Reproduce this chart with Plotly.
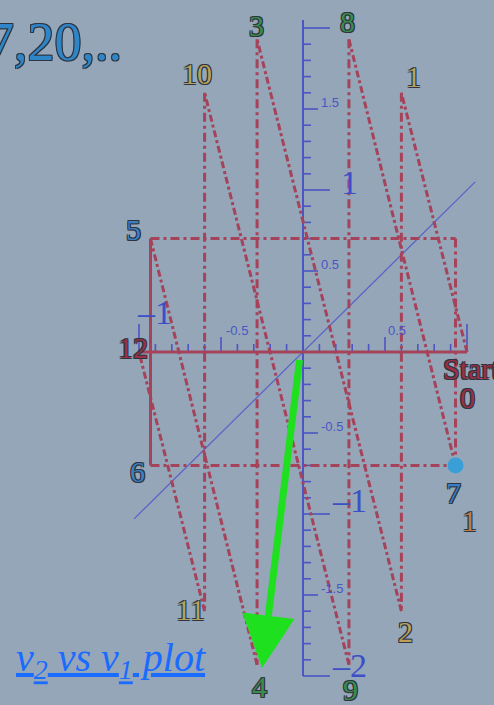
import numpy as np
import plotly.graph_objects as go

# ---- data -----------------------------------------------------------------
# sampled states (v1, v2) of the iteration, in visiting order 0..12
v1_pts = [1.00, 0.60, 0.60, -0.28, -0.28, -0.93, -0.93, 0.93, 0.28, 0.28, -0.60, -0.60, -1.00]
v2_pts = [0.00, 1.60, -1.60, 1.93, -1.93, 0.70, -0.70, -0.70, 1.93, -1.93, 1.60, -1.60, 0.00]
state_names = ["0", "1", "2", "3", "4", "5", "6", "7", "8", "9", "10", "11", "12"]

# continuous ramps and vertical resets between consecutive states
ramp_pairs = [(0, 1), (2, 3), (4, 5), (7, 8), (9, 10), (11, 12)]
reset_pairs = [(1, 2), (3, 4), (8, 9), (10, 11)]

# axis tick labels
y_small_ticks = [1.5, 0.5, -0.5, -1.5]
x_small_ticks = [-0.5, 0.5]
y_big_ticks = [1, -1, -2]
x_big_ticks = [-1]

# reference diagonal v2 = v1
diag_v1 = [-1.03, 1.05]

# green pointer from the origin down to state 4
arrow_from = (-0.02, -0.04)
arrow_to = (-0.25, -1.95)

# ---- geometry / styling ---------------------------------------------------
W, H = 494, 705
PX_X, PX_Y = 164.0, 162.0          # pixels per unit on each axis
X0_PX, Y0_PX = 303.0, 352.0        # where the origin sits on the page
x_range = [-X0_PX / PX_X, (W - X0_PX) / PX_X]
y_range = [(Y0_PX - H) / PX_Y, Y0_PX / PX_Y]

BG = "#95a6b9"
RED = "#a5435a"
BLUE = "#4b55c4"
SERIF = "Liberation Serif, DejaVu Serif, serif"
OUTLINE = ("-1px -1px 0 #2d3440, 1px -1px 0 #2d3440, "
           "-1px 1px 0 #2d3440, 1px 1px 0 #2d3440")
DASHDOT = "9px,4px,3px,4px"

fig = go.Figure()


def seg(xs, ys, color, width, dash="solid"):
    fig.add_trace(go.Scatter(x=xs, y=ys, mode="lines", hoverinfo="skip",
                             line=dict(color=color, width=width, dash=dash)))


# blue diagonal
seg(diag_v1, diag_v1, "#5a63c6", 1.3)

# vertical v2 axis with ticks on its right side
seg([0, 0], [-2.0, 2.05], BLUE, 2)
ty = np.round(np.arange(-20, 21) * 0.1, 1)
tx_list, ty_list = [], []
for t in ty:
    if abs(t) < 1e-9:
        continue
    if abs(t - round(t)) < 1e-9:
        L = 27
    elif abs(t * 2 - round(t * 2)) < 1e-9:
        L = 15
    else:
        L = 8
    tx_list += [0, L / PX_X, None]
    ty_list += [t, t, None]
seg(tx_list, ty_list, BLUE, 1.6)

# horizontal v1 ticks (pointing up)
tx = np.round(np.arange(-10, 11) * 0.1, 1)
hx, hy = [], []
for t in tx:
    if abs(t) < 1e-9:
        continue
    if abs(t - round(t)) < 1e-9:
        L = 28
    elif abs(t * 2 - round(t * 2)) < 1e-9:
        L = 15
    else:
        L = 8
    hx += [t, t, None]
    hy += [0, L / PX_Y, None]
seg(hx, hy, BLUE, 1.6)

# red v1 axis line
seg([v1_pts[12], v1_pts[0]], [v2_pts[12], v2_pts[0]], RED, 3)

# rectangle traced around states 5, 6, 7
corner_v1 = v1_pts[7]
corner_v2 = v2_pts[5]
seg([v1_pts[5], v1_pts[6]], [v2_pts[5], v2_pts[6]], RED, 3)
seg([v1_pts[6], v1_pts[7]], [v2_pts[6], v2_pts[7]], RED, 3, DASHDOT)
seg([v1_pts[5], corner_v1], [v2_pts[5], corner_v2], RED, 3, DASHDOT)
seg([corner_v1, v1_pts[7]], [corner_v2, v2_pts[7]], RED, 3, DASHDOT)

# ramps
for a, b in ramp_pairs:
    seg([v1_pts[a], v1_pts[b]], [v2_pts[a], v2_pts[b]], RED, 3, "7px,3px,3px,3px")

# resets
for a, b in reset_pairs:
    seg([v1_pts[a], v1_pts[b]], [v2_pts[a], v2_pts[b]], RED, 3, DASHDOT)

# current state marker
fig.add_trace(go.Scatter(x=[v1_pts[7]], y=[v2_pts[7]], mode="markers", hoverinfo="skip",
                         marker=dict(size=16, color="#3a9fd6")))

ann = []

# small tick labels
for t in y_small_ticks:
    ann.append(dict(x=0, y=t, text=f"{t:g}", showarrow=False, xanchor="left",
                    yanchor="middle", xshift=16, yshift=7,
                    font=dict(family="Liberation Sans, Arial", size=13, color=BLUE)))
for t in x_small_ticks:
    ann.append(dict(x=t, y=0, text=f"{t:g}", showarrow=False, xanchor="left",
                    yanchor="middle", xshift=1 if t > 0 else 3, yshift=22,
                    font=dict(family="Liberation Sans, Arial", size=13, color=BLUE)))

# large axis labels
for t in y_big_ticks:
    txt = f"{t}" if t > 0 else f"\u2013{abs(t)}"
    ann.append(dict(x=0, y=t, text=txt, showarrow=False, xanchor="center",
                    yanchor="middle", xshift=46, yshift=8 if t > 0 else 14 if t == -1 else 11,
                    font=dict(family=SERIF, size=34, color="#3d4fc6")))
for t in x_big_ticks:
    ann.append(dict(x=t, y=0, text=f"\u2013{abs(t)}", showarrow=False, xanchor="center",
                    yanchor="middle", xshift=15, yshift=40,
                    font=dict(family=SERIF, size=34, color="#3d4fc6")))

# state labels: colour and offset (pixels) from each state
label_style = {
    0: ("#9a3043", 0, -45),
    1: ("#baa05a", 12, 16),
    2: ("#baa05a", 4, -20),
    3: ("#3a8c4c", -1, 14),
    4: ("#3a8c4c", 2, -22),
    5: ("#3a80c2", -17, 9),
    6: ("#3a80c2", -13, -6),
    7: ("#3a80c2", -2, -27),
    8: ("#3a8c4c", -1, 18),
    9: ("#3a8c4c", 2, -25),
    10: ("#baa05a", -8, 19),
    11: ("#baa05a", -14, 2),
    12: ("#9a3043", -6, 5),
}
for i, name in enumerate(state_names):
    col, dx, dy = label_style[i]
    ann.append(dict(x=v1_pts[i], y=v2_pts[i], text=name, showarrow=False,
                    xanchor="center", yanchor="middle", xshift=dx, yshift=dy,
                    font=dict(family=SERIF, size=30, color=col, shadow=OUTLINE)))
ann.append(dict(x=v1_pts[0], y=v2_pts[0], text="Start", showarrow=False,
                xanchor="left", yanchor="middle", xshift=-26, yshift=-16,
                font=dict(family=SERIF, size=30, color="#9a3043", shadow=OUTLINE)))
ann.append(dict(x=v1_pts[7], y=v2_pts[7], text="1", showarrow=False,
                xanchor="center", yanchor="middle", xshift=14, yshift=-55,
                font=dict(family=SERIF, size=30, color="#c47a44", shadow=OUTLINE)))

# heading fragment
ann.append(dict(xref="paper", yref="paper", x=124 / W, y=1 - 42 / H, text="7,20,..",
                showarrow=False, xanchor="right", yanchor="middle",
                font=dict(family=SERIF, size=54, color="#2e86c8", shadow=OUTLINE)))

# link caption
ann.append(dict(xref="paper", yref="paper", x=14 / W, y=1 - 660 / H,
                text="v<sub>2</sub> vs v<sub>1</sub> plot", showarrow=False,
                xanchor="left", yanchor="middle",
                font=dict(family=SERIF, size=40, color="#1a6bff", style="italic",
                          lineposition="under")))

# green arrow
ann.append(dict(x=arrow_to[0], y=arrow_to[1], ax=arrow_from[0], ay=arrow_from[1],
                axref="x", ayref="y", text="", showarrow=True, arrowhead=2,
                arrowsize=1.5, arrowwidth=7, arrowcolor="#1fe01f", standoff=0))

fig.update_layout(
    width=W, height=H, margin=dict(l=0, r=0, t=0, b=0),
    paper_bgcolor=BG, plot_bgcolor=BG, showlegend=False,
    xaxis=dict(range=x_range, visible=False, fixedrange=True),
    yaxis=dict(range=y_range, visible=False, fixedrange=True),
    annotations=ann,
)

fig.write_html("out.html")
